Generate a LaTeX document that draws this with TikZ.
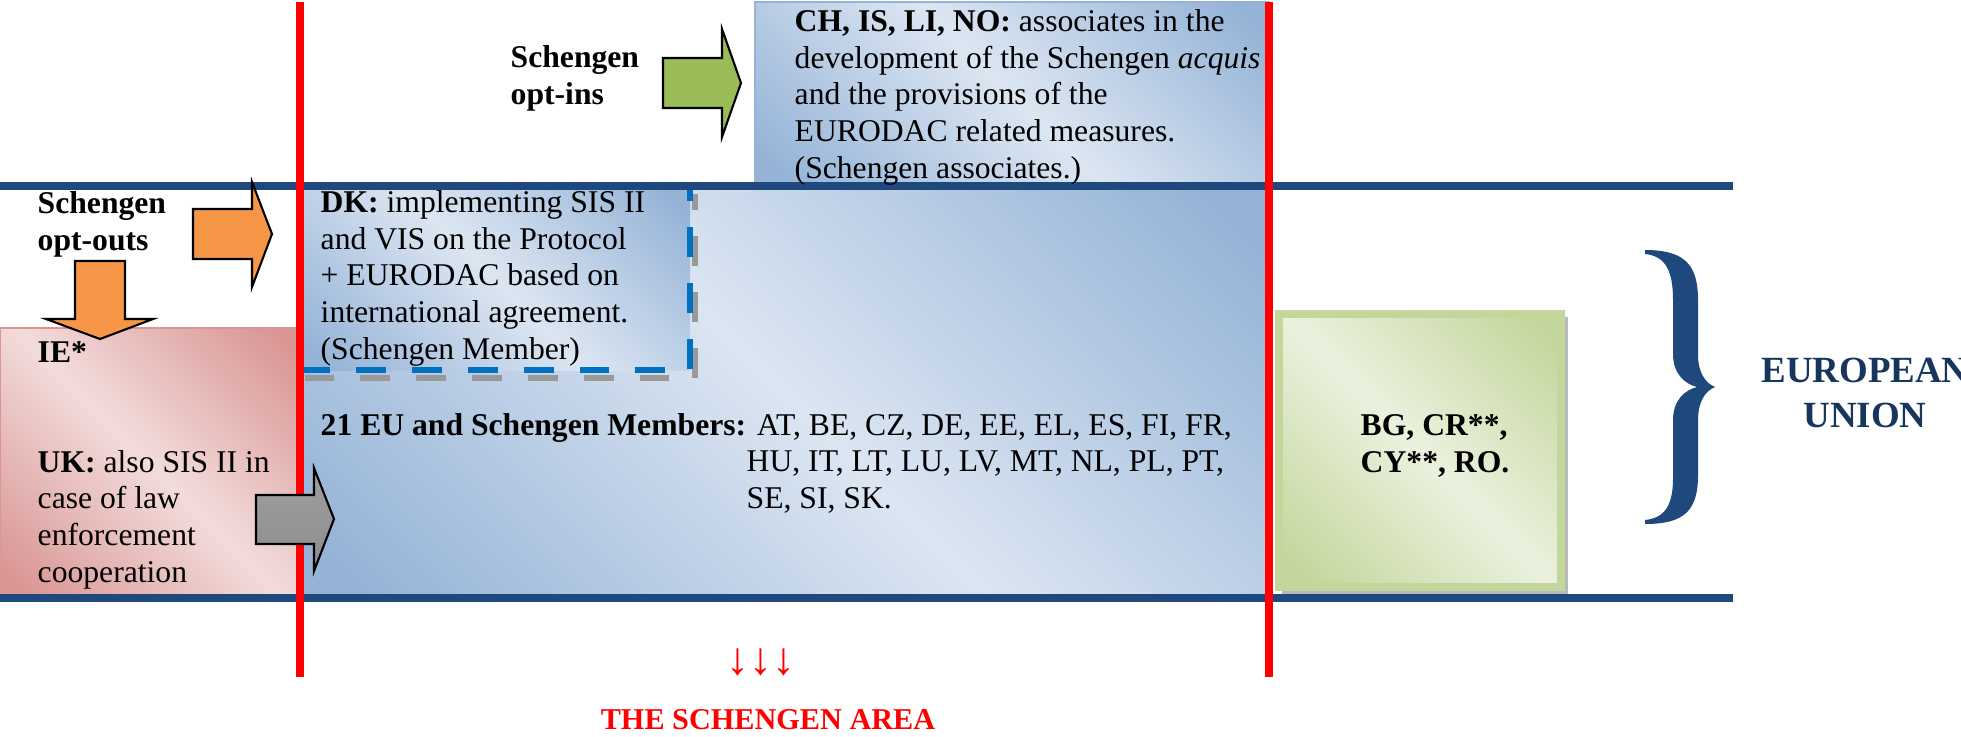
\documentclass[tikz,border=0pt]{standalone}
\usepackage{fontspec}
\setmainfont{Liberation Serif}
\usetikzlibrary{positioning}

\newcommand{\dgmfont}{\fontsize{9}{10.4}\selectfont}

\definecolor{euline}{RGB}{31,73,125}
\definecolor{eunavy}{RGB}{23,54,93}
\definecolor{bluedk}{RGB}{149,179,215}
\definecolor{bluelt}{RGB}{220,230,242}
\definecolor{pinkdk}{RGB}{217,150,148}
\definecolor{pinklt}{RGB}{242,220,219}
\definecolor{greendk}{RGB}{195,214,155}
\definecolor{greenlt}{RGB}{235,241,222}
\definecolor{optorange}{RGB}{247,150,70}
\definecolor{optgreen}{RGB}{155,187,89}
\definecolor{dkdash}{RGB}{0,112,192}

\pgfdeclarehorizontalshading{bluediag}{100bp}{color(0bp)=(bluedk); color(18bp)=(bluedk); color(50bp)=(bluelt); color(82bp)=(bluedk); color(100bp)=(bluedk)}
\pgfdeclarehorizontalshading{pinkdiag}{100bp}{color(0bp)=(pinkdk); color(18bp)=(pinkdk); color(50bp)=(pinklt); color(82bp)=(pinkdk); color(100bp)=(pinkdk)}
\pgfdeclarehorizontalshading{greendiag}{100bp}{color(0bp)=(greendk); color(18bp)=(greendk); color(50bp)=(greenlt); color(82bp)=(greendk); color(100bp)=(greendk)}

\begin{document}
\begin{tikzpicture}[x=0.01cm, y=-0.01cm,
  font=\dgmfont,
  txt/.style={inner sep=0pt, align=left, anchor=base west},
  lbl/.style={txt, font=\dgmfont\bfseries},
  area/.style={shading angle=45},
  blockarr/.style={draw=black, line width=0.6pt, line join=miter},
  hline/.style={euline, line width=0.08cm},
  vline/.style={red, line width=0.08cm},
  dkdashes/.style={line width=0.06cm, dash pattern=on 8.5pt off 7.4pt}]
  \useasboundingbox (0,0) rectangle (1961,736);

  % regions
  \shade[area, shading=bluediag] (300,186) rectangle (1269,598);
  \shade[area, shading=bluediag, draw=bluedk] (755,2) rectangle (1269,186);
  \shade[area, shading=pinkdiag, draw=pinkdk] (0,328) rectangle (300,598);
  \shade[area, shading=bluediag] (300,186) rectangle (690,370);
  \draw[dkdashes, gray!80, dash phase=4pt] (695,194) -- (695,378) -- (305,378);
  \draw[dkdashes, dkdash] (300,370) -- (690,370) -- (690,186);
  \fill[gray!55] (1282,317) rectangle (1568,594);
  \shade[area, shading=greendiag, draw=greendk, line width=0.08cm] (1279,314) rectangle (1561,587);

  % lines
  \draw[hline] (0,186) -- (1733,186);
  \draw[hline] (0,598) -- (1733,598);
  \draw[vline] (300,2) -- (300,677);
  \draw[vline] (1269,2) -- (1269,677);

  % block arrows
  \draw[blockarr, fill=optgreen] (663,58) -- (722,58) -- (722,29) -- (741,83) -- (722,137) -- (722,108) -- (663,108) -- cycle;
  \draw[blockarr, fill=optorange] (193,209) -- (252,209) -- (252,182) -- (272,234) -- (252,287) -- (252,259) -- (193,259) -- cycle;
  \draw[blockarr, fill=optorange] (75,261) -- (125,261) -- (125,319) -- (153,319) -- (100,339) -- (46,319) -- (75,319) -- cycle;
  \draw[blockarr, top color=gray!75, bottom color=gray!90] (256,495) -- (314,495) -- (314,468) -- (334,519) -- (314,571) -- (314,544) -- (256,544) -- cycle;

  % brace
  \fill[euline] (1645,250) .. controls (1685,250) and (1698,265) .. (1698,300)
    -- (1698,355) .. controls (1698,372) and (1705,383) .. (1715,387)
    .. controls (1705,391) and (1698,402) .. (1698,420)
    -- (1698,475) .. controls (1698,510) and (1685,524) .. (1645,524)
    -- (1645,520) .. controls (1665,518) and (1673,505) .. (1673,478)
    -- (1673,420) .. controls (1673,400) and (1685,390) .. (1697,387)
    .. controls (1685,384) and (1673,374) .. (1673,354)
    -- (1673,300) .. controls (1673,270) and (1665,256) .. (1645,254) -- cycle;

  % texts (placed at the baseline of their last line)
  \node[lbl] (optins) at (510,104) {Schengen\\opt-ins};
  \node[txt] (chtxt) at (794,178) {\textbf{CH, IS, LI, NO:} associates in the\\development of the Schengen \textit{acquis}\\and the provisions of the\\EURODAC related measures.\\(Schengen associates.)};
  \node[lbl] (optouts) at (37,250) {Schengen\\opt-outs};
  \node[txt] (dktxt) at (320,359) {\textbf{DK:} implementing SIS II\\and VIS on the Protocol\\+ EURODAC based on\\international agreement.\\(Schengen Member)};
  \node[lbl] (ietxt) at (37,362) {IE*};
  \node[txt] (uktxt) at (37,582) {\textbf{UK:} also SIS II in\\case of law\\enforcement\\cooperation};
  \node[txt] (eulbl) at (320,435) {\textbf{21 EU and Schengen Members:} AT, BE, CZ, DE, EE, EL, ES, FI, FR,};
  \node[txt] (eulist) at (746,508) {HU, IT, LT, LU, LV, MT, NL, PL, PT,\\SE, SI, SK.};
  \node[lbl] (bgtxt) at (1360,472) {BG, CR**,\\CY**, RO.};
  \node[txt, anchor=base, align=center, text=eunavy, font=\fontsize{10.5}{12.7}\selectfont\bfseries] (eutxt) at (1865,427) {EUROPEAN\\UNION};
  \node[inner sep=0pt, red, font=\fontsize{13}{15}\selectfont] (downarr) at (761,662) {↓↓↓};
  \node[inner sep=0pt, anchor=base, red, font=\fontsize{8.6}{10}\selectfont\bfseries] (areatxt) at (768,729) {THE SCHENGEN AREA};
\end{tikzpicture}
\end{document}
